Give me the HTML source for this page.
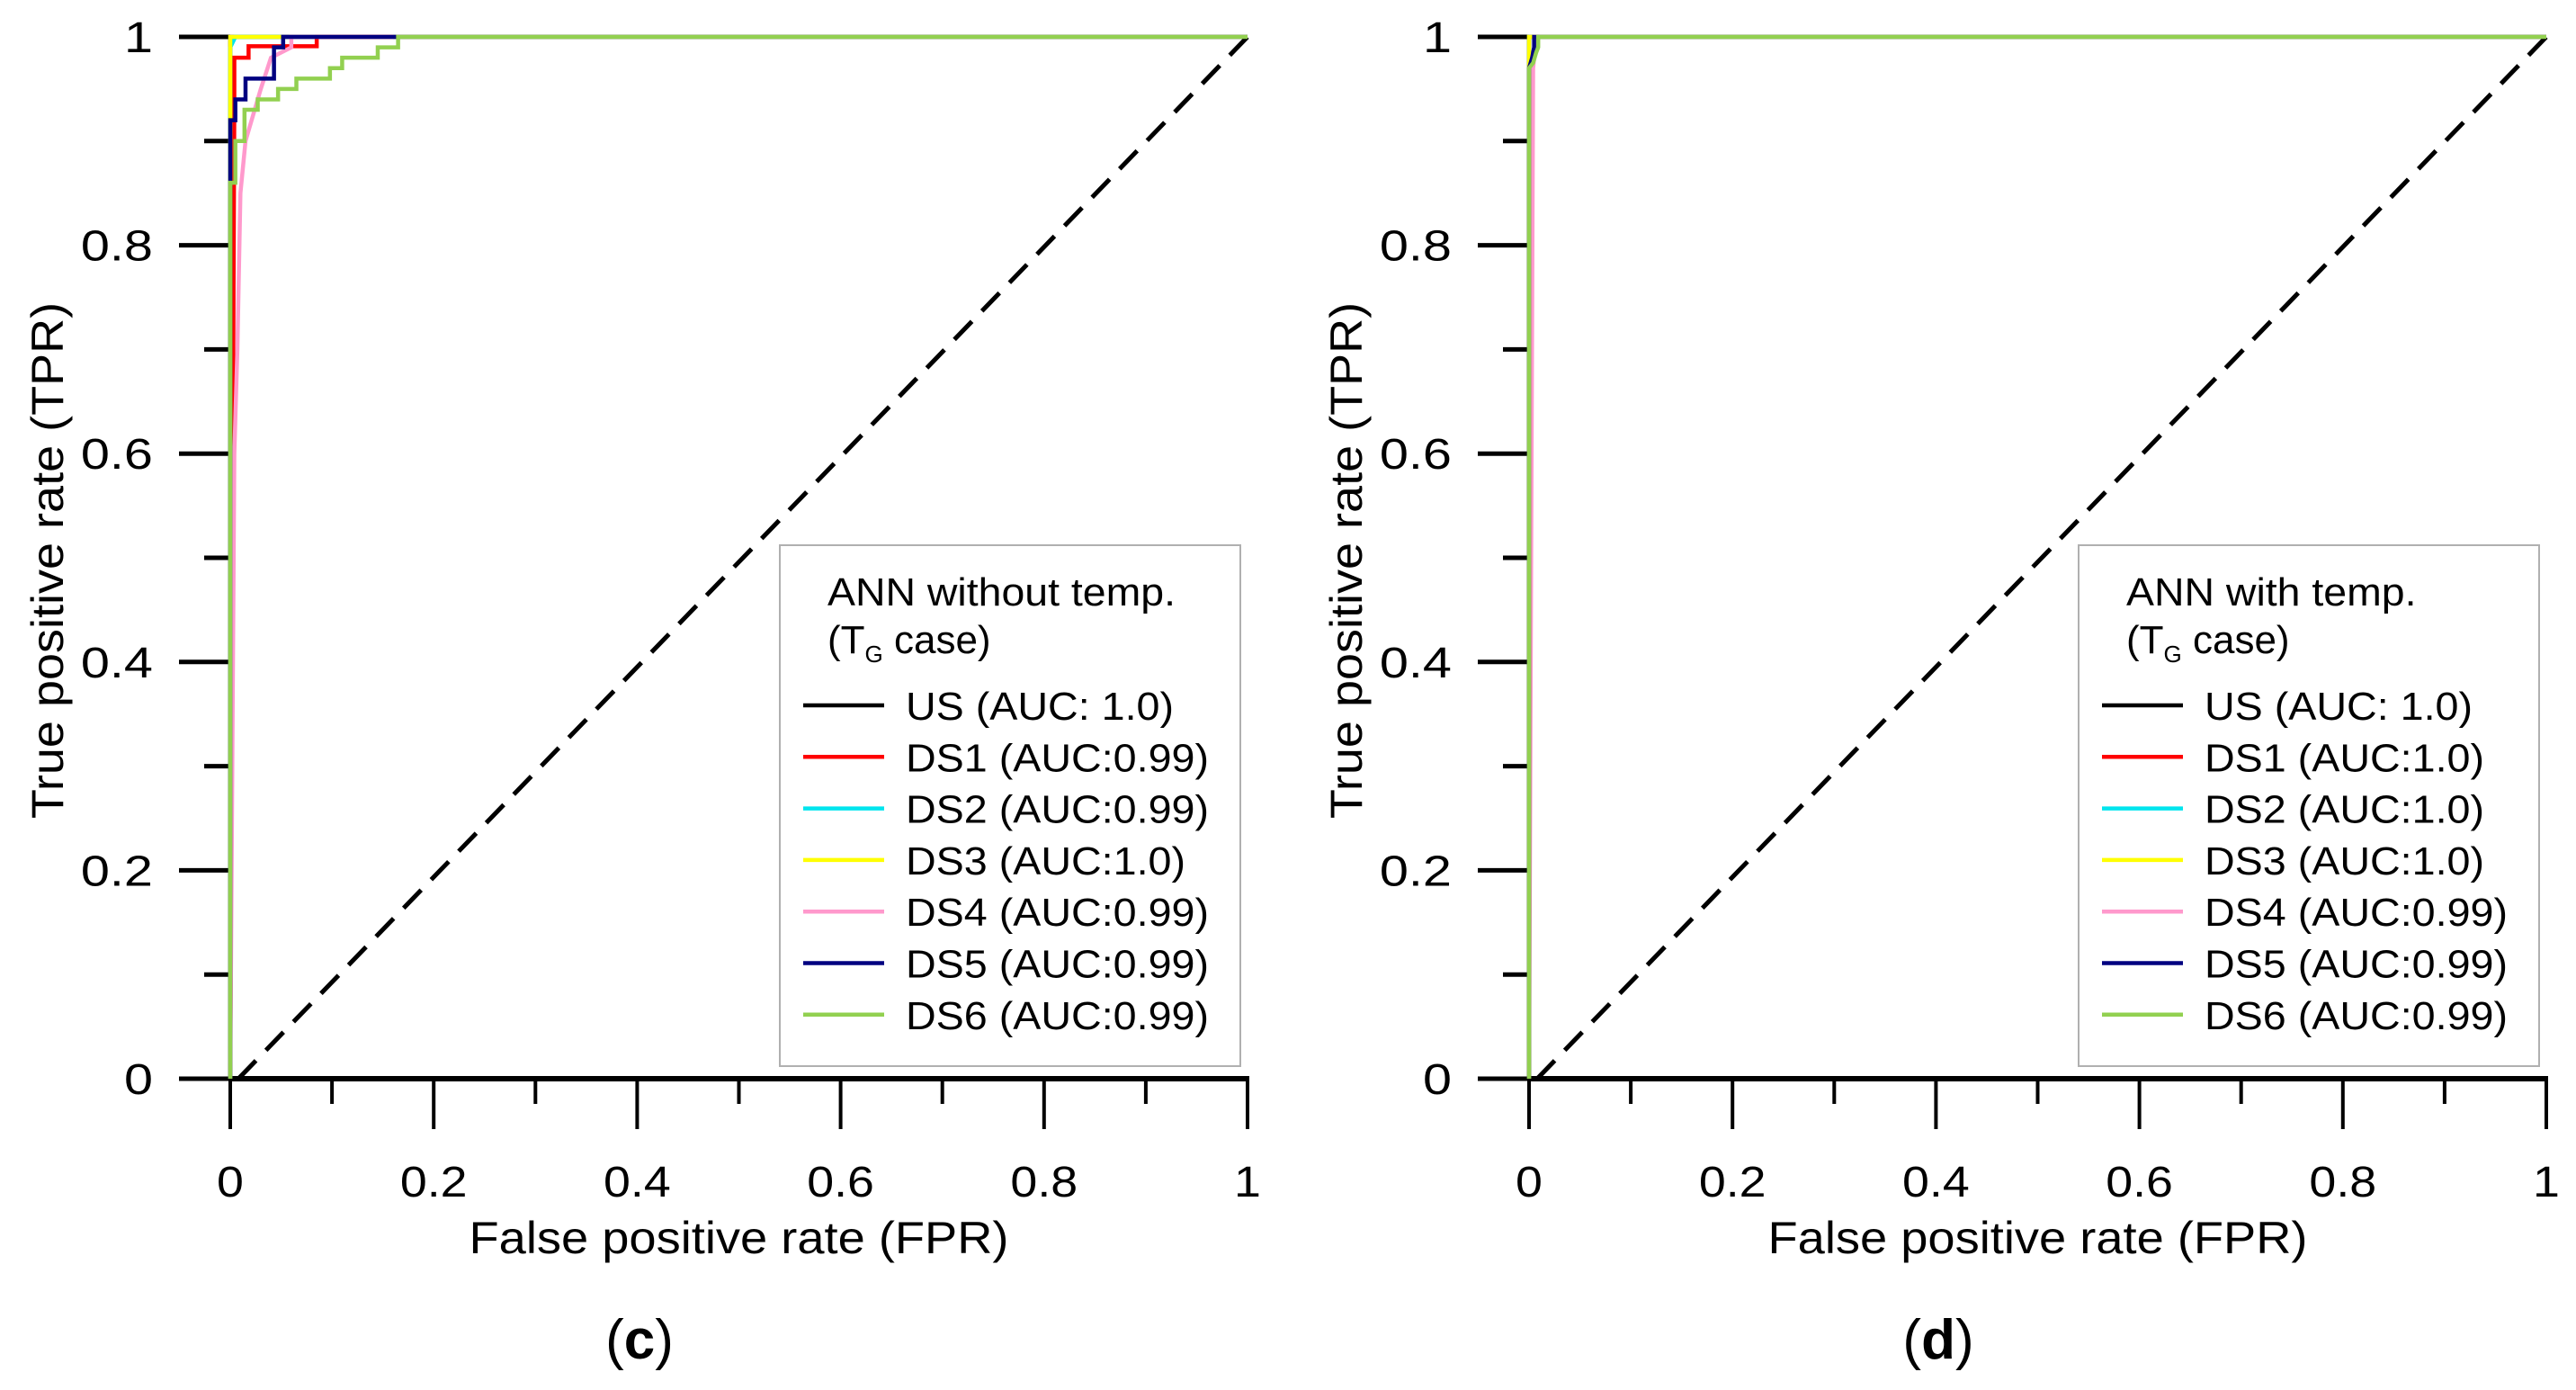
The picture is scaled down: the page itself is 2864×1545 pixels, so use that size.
<!DOCTYPE html>
<html><head><meta charset="utf-8"><style>
html,body{margin:0;padding:0;background:#fff}
svg{display:block}
text{font-family:"Liberation Sans",sans-serif;fill:#000}
</style></head><body>
<svg id="fig" width="2864" height="1545" viewBox="0 0 2864 1545" xmlns="http://www.w3.org/2000/svg"></svg>
<script>
// ---- data ----
const seriesNames = ["US","DS1","DS2","DS3","DS4","DS5","DS6"];
const seriesColors = ["#000000","#ff0000","#00e5ee","#ffff00","#ff99cc","#000080","#92d050"];
const drawOrderLeft = [0,1,2,3,4,5,6];
const drawOrderRight = [0,1,2,4,3,5,6];
const aucLeft = ["US (AUC: 1.0)","DS1 (AUC:0.99)","DS2 (AUC:0.99)","DS3 (AUC:1.0)","DS4 (AUC:0.99)","DS5 (AUC:0.99)","DS6 (AUC:0.99)"];
const aucRight = ["US (AUC: 1.0)","DS1 (AUC:1.0)","DS2 (AUC:1.0)","DS3 (AUC:1.0)","DS4 (AUC:0.99)","DS5 (AUC:0.99)","DS6 (AUC:0.99)"];
// left panel (c)
const cUS_fpr=[0,0,1], cUS_tpr=[0,1,1];
const cDS1_fpr=[0,0.004,0.004,0.018,0.018,0.085,0.085,0.16], cDS1_tpr=[0,0.938,0.98,0.98,0.991,0.991,1,1];
const cDS2_fpr=[0,0,0.005,0.05], cDS2_tpr=[0,0.99,1,1];
const cDS3_fpr=[0,0,0.05], cDS3_tpr=[0,1,1];
const cDS4_fpr=[0,0.004,0.007,0.01,0.015,0.03,0.04,0.06,0.06,0.16], cDS4_tpr=[0,0.6,0.7,0.85,0.9,0.95,0.98,0.99,1,1];
const cDS5_fpr=[0,0,0.005,0.005,0.015,0.015,0.043,0.043,0.052,0.052,0.163], cDS5_tpr=[0,0.92,0.92,0.94,0.94,0.96,0.96,0.99,0.99,1,1];
const cDS6_fpr=[0,0,0.005,0.005,0.014,0.014,0.027,0.027,0.047,0.047,0.065,0.065,0.098,0.098,0.11,0.11,0.145,0.145,0.165,0.165,1],
      cDS6_tpr=[0,0.86,0.86,0.9,0.9,0.93,0.93,0.94,0.94,0.95,0.95,0.96,0.96,0.97,0.97,0.98,0.98,0.99,0.99,1,1];
// right panel (d)
const dUS_fpr=[0,0,1], dUS_tpr=[0,1,1];
const dDS1_fpr=[0,0,0.01], dDS1_tpr=[0,1,1];
const dDS2_fpr=[0,0,0.01], dDS2_tpr=[0,1,1];
const dDS3_fpr=[0,0,0.01], dDS3_tpr=[0,1,1];
const dDS4_fpr=[0,0.004,0.006,0.006,0.01], dDS4_tpr=[0,0.97,0.99,1,1];
const dDS5_fpr=[0,0,0.003,0.005,0.005,0.01], dDS5_tpr=[0,0.97,0.98,0.99,1,1];
const dDS6_fpr=[0,0,0.004,0.007,0.009,0.009,1], dDS6_tpr=[0,0.97,0.975,0.985,0.99,1,1];
const xTicks=[0,0.2,0.4,0.6,0.8,1];
const xTickLabels=["0","0.2","0.4","0.6","0.8","1"];
const yTicks=[0,0.2,0.4,0.6,0.8,1];
const yTickLabels=["0","0.2","0.4","0.6","0.8","1"];
const diagFpr=[0.008,1], diagTpr=[0,1];

const NS="http://www.w3.org/2000/svg";
const svg=document.getElementById('fig');
function mk(tag,attrs,parent){const e=document.createElementNS(NS,tag);for(const k in attrs)e.setAttribute(k,attrs[k]);(parent||svg).appendChild(e);return e;}
function stretch(el,f){const w=el.getComputedTextLength();el.setAttribute('textLength',(w*f).toFixed(1));el.setAttribute('lengthAdjust','spacingAndGlyphs');}

function panel(ox, title, aucs, fprs, tprs, order, letter){
  const x0=ox, x1=ox+1131, y0=1199, y1=41;
  const sx=v=>x0+v*(x1-x0), sy=v=>y0-v*(y0-y1);
  const g=mk('g',{});
  
  
  for(let i=0;i<=10;i++){const v=i/10;const major=i%2===0;
    const t=mk('line',{x1:x0-(major?57:29),x2:x0,y1:sy(v),y2:sy(v),stroke:'#000','stroke-width':5},g);
    
    }
  yTicks.forEach((v,i)=>{const t=mk('text',{x:x0-86,y:sy(v)+17,'font-size':48,'text-anchor':'end'},g);t.textContent=yTickLabels[i];
    
    
    stretch(t,1.2);});
  for(let i=0;i<=10;i++){const v=i/10;const major=i%2===0;
    const t=mk('line',{x1:sx(v),x2:sx(v),y1:y0,y2:y0+(major?56:28),stroke:'#000','stroke-width':4},g);
    
    }
  xTicks.forEach((v,i)=>{const t=mk('text',{x:sx(v),y:1330,'font-size':48,'text-anchor':'middle'},g);t.textContent=xTickLabels[i];
    
    
    stretch(t,1.12);});
  const xa=mk('line',{x1:x0-2,x2:x1+2,y1:y0,y2:y0,stroke:'#000','stroke-width':6},g);
  
  
  const ya=mk('line',{x1:x0,x2:x0,y1:y0,y2:y1,stroke:'#000','stroke-width':4},g);
  
  
  const xt=mk('text',{x:(x0+x1)/2,y:1393,'font-size':50,'text-anchor':'middle'},g);xt.textContent='False positive rate (FPR)';
  
  
  stretch(xt,1.085);
  const yt=mk('text',{x:0,y:0,'font-size':50,'text-anchor':'middle',transform:`translate(${ox-186},623) rotate(-90)`},g);yt.textContent='True positive rate (TPR)';
  
  
  stretch(yt,1.08);
  const d=mk('line',{x1:sx(diagFpr[0]),y1:sy(diagTpr[0]),x2:sx(diagFpr[1]),y2:sy(diagTpr[1]),stroke:'#000','stroke-width':5,'stroke-dasharray':'28 16'},g);
  
  
  order.forEach(i=>{
    const pts=fprs[i].map((f,j)=>sx(f)+','+sy(tprs[i][j])).join(' ');
    const p=mk('polyline',{points:pts,fill:'none',stroke:seriesColors[i],'stroke-width':4.5,'stroke-linejoin':'miter'},g);
    
    
  });
  const lx=ox+611, ly=606;
  const lg=mk('g',{},g);
  
  
  mk('rect',{x:lx,y:ly,width:512,height:579,fill:'#fff',stroke:'#b0b0b0','stroke-width':2},lg);
  const t1=mk('text',{x:lx+53,y:673,'font-size':44},lg);t1.textContent=title;
  
  
  stretch(t1,1.055);
  const t2=mk('text',{x:lx+53,y:726,'font-size':44},lg);
  
  
  t2.innerHTML='(T<tspan font-size="26" dy="10">G</tspan><tspan dy="-10"> case)</tspan>';
  aucs.forEach((s,i)=>{const y=800+i*57.3;
    const e=mk('g',{},lg);
    
    
    mk('line',{x1:lx+26,x2:lx+116,y1:y-16,y2:y-16,stroke:seriesColors[i],'stroke-width':4.5},e);
    const tt=mk('text',{x:lx+140,y:y,'font-size':44},e);tt.textContent=s;
    stretch(tt,1.06);});
  const lt=mk('text',{x:ox+455,y:1510,'font-size':62,'text-anchor':'middle','font-family':'Liberation Serif, serif'},g);
  lt.innerHTML='(<tspan font-weight="bold">'+letter+'</tspan>)';
  
  
}
panel(256,'ANN without temp.',aucLeft,[cUS_fpr,cDS1_fpr,cDS2_fpr,cDS3_fpr,cDS4_fpr,cDS5_fpr,cDS6_fpr],[cUS_tpr,cDS1_tpr,cDS2_tpr,cDS3_tpr,cDS4_tpr,cDS5_tpr,cDS6_tpr],drawOrderLeft,'c');
panel(1700,'ANN with temp.',aucRight,[dUS_fpr,dDS1_fpr,dDS2_fpr,dDS3_fpr,dDS4_fpr,dDS5_fpr,dDS6_fpr],[dUS_tpr,dDS1_tpr,dDS2_tpr,dDS3_tpr,dDS4_tpr,dDS5_tpr,dDS6_tpr],drawOrderRight,'d');
</script>
</body></html>
